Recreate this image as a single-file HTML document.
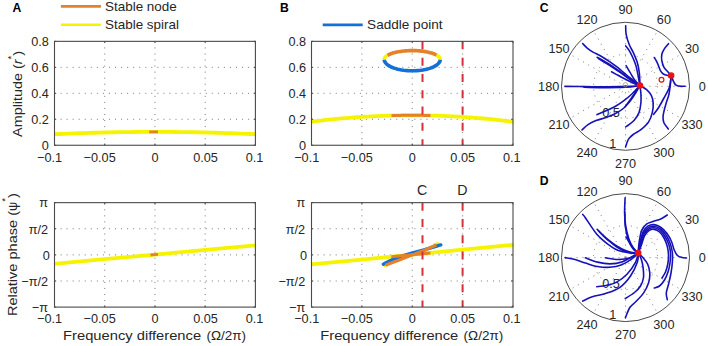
<!DOCTYPE html><html><head><meta charset="utf-8"><style>html,body{margin:0;padding:0;background:#fff;}svg{display:block;}</style></head><body><svg width="708" height="346" viewBox="0 0 708 346" font-family="Liberation Sans, sans-serif">
<rect width="708" height="346" fill="#fff"/>
<path d="M104.72,145.25V41.35M154.95,145.25V41.35M205.18,145.25V41.35M54.50,67.33H255.40M54.50,93.30H255.40M54.50,119.28H255.40" stroke="#7a7a7a" stroke-width="1" stroke-dasharray="1 5.05" fill="none"/>
<path d="M104.72,307.10V202.65M154.95,307.10V202.65M205.18,307.10V202.65M54.50,228.76H255.40M54.50,254.88H255.40M54.50,280.99H255.40" stroke="#7a7a7a" stroke-width="1" stroke-dasharray="1 5.05" fill="none"/>
<path d="M361.88,145.25V41.35M412.25,145.25V41.35M462.62,145.25V41.35M311.50,67.33H513.00M311.50,93.30H513.00M311.50,119.28H513.00" stroke="#7a7a7a" stroke-width="1" stroke-dasharray="1 5.05" fill="none"/>
<path d="M361.88,307.10V202.65M412.25,307.10V202.65M462.62,307.10V202.65M311.50,228.76H513.00M311.50,254.88H513.00M311.50,280.99H513.00" stroke="#7a7a7a" stroke-width="1" stroke-dasharray="1 5.05" fill="none"/>
<path d="M54.00,134.22L59.05,134.00L64.09,133.78L69.14,133.58L74.19,133.39L79.24,133.21L84.28,133.04L89.33,132.88L94.38,132.74L99.43,132.60L104.47,132.48L109.52,132.37L114.57,132.27L119.62,132.19L124.66,132.11L129.71,132.05L134.76,131.99L139.81,131.95L144.86,131.92L149.90,131.91L154.95,131.90L160.00,131.91L165.05,131.92L170.09,131.95L175.14,131.99L180.19,132.04L185.24,132.11L190.28,132.18L195.33,132.27L200.38,132.37L205.43,132.48L210.47,132.60L215.52,132.73L220.57,132.88L225.62,133.04L230.66,133.20L235.71,133.38L240.76,133.57L245.81,133.78L250.85,133.99L255.90,134.22" stroke="#f5f300" stroke-width="3.8" fill="none"/>
<path d="M149.20,131.91L149.42,131.91L149.64,131.91L149.86,131.91L150.08,131.91L150.30,131.91L150.52,131.90L150.74,131.90L150.96,131.90L151.18,131.90L151.40,131.90L151.62,131.90L151.84,131.90L152.06,131.90L152.28,131.90L152.50,131.90L152.72,131.90L152.94,131.90L153.16,131.90L153.38,131.90L153.60,131.90L153.82,131.90L154.04,131.90L154.26,131.90L154.48,131.90L154.70,131.90L154.92,131.90L155.14,131.90L155.36,131.90L155.58,131.90L155.80,131.90L156.02,131.90L156.24,131.90L156.46,131.90L156.68,131.90L156.90,131.90L157.12,131.90L157.34,131.90L157.56,131.90L157.78,131.90L158.00,131.90" stroke="#e4822a" stroke-width="2.8" fill="none"/>
<path d="M54.00,263.85L104.47,259.22L154.95,254.60L205.43,249.98L255.90,245.35" stroke="#f5f300" stroke-width="3.8" fill="none"/>
<path d="M150.50,255.01L154.25,254.66L158.00,254.32" stroke="#e4822a" stroke-width="2.8" fill="none"/>
<path d="M311.00,121.76L316.06,121.13L321.12,120.53L326.19,119.97L331.25,119.43L336.31,118.93L341.38,118.46L346.44,118.02L351.50,117.62L356.56,117.25L361.62,116.91L366.69,116.60L371.75,116.33L376.81,116.08L381.88,115.88L386.94,115.70L392.00,115.55L397.06,115.44L402.12,115.36L407.19,115.31L412.25,115.30L417.31,115.32L422.38,115.37L427.44,115.45L432.50,115.57L437.56,115.71L442.62,115.89L447.69,116.11L452.75,116.35L457.81,116.63L462.88,116.94L467.94,117.28L473.00,117.66L478.06,118.07L483.12,118.51L488.19,118.98L493.25,119.48L498.31,120.02L503.38,120.59L508.44,121.19L513.50,121.83" stroke="#f5f300" stroke-width="3.8" fill="none"/>
<path d="M391.50,115.57L392.48,115.54L393.45,115.52L394.43,115.50L395.40,115.47L396.38,115.45L397.35,115.44L398.32,115.42L399.30,115.40L400.27,115.39L401.25,115.37L402.23,115.36L403.20,115.35L404.18,115.34L405.15,115.33L406.12,115.32L407.10,115.32L408.07,115.31L409.05,115.31L410.02,115.30L411.00,115.30L411.98,115.30L412.95,115.30L413.93,115.30L414.90,115.31L415.88,115.31L416.85,115.31L417.82,115.32L418.80,115.33L419.77,115.34L420.75,115.35L421.73,115.36L422.70,115.37L423.68,115.39L424.65,115.40L425.62,115.42L426.60,115.44L427.57,115.45L428.55,115.47L429.52,115.49L430.50,115.52" stroke="#e4822a" stroke-width="3" fill="none"/>
<path d="M384.25,59.50L384.34,60.39L384.59,61.27L385.02,62.14L385.62,62.99L386.38,63.82L387.30,64.63L388.38,65.40L389.60,66.14L390.96,66.84L392.45,67.49L394.07,68.09L395.79,68.64L397.62,69.13L399.54,69.57L401.53,69.94L403.60,70.25L405.71,70.49L407.87,70.66L410.05,70.77L412.25,70.80L414.45,70.77L416.63,70.66L418.79,70.49L420.90,70.25L422.97,69.94L424.96,69.57L426.88,69.13L428.71,68.64L430.43,68.09L432.05,67.49L433.54,66.84L434.90,66.14L436.12,65.40L437.20,64.63L438.12,63.82L438.88,62.99L439.48,62.14L439.91,61.27L440.16,60.39L440.25,59.50" stroke="#1270d8" stroke-width="3.6" fill="none"/>
<path d="M387.53,55.32L386.54,55.97L385.72,56.65L385.08,57.35L384.62,58.06L384.34,58.78L384.25,59.50" stroke="#f5f300" stroke-width="3.6" fill="none"/>
<path d="M440.25,59.50L440.14,58.72L439.82,57.95L439.30,57.20L438.56,56.46L437.63,55.74L436.50,55.05" stroke="#f5f300" stroke-width="3.6" fill="none"/>
<path d="M436.50,55.05L435.44,54.51L434.27,54.00L432.99,53.52L431.61,53.07L430.12,52.65L428.55,52.26L426.89,51.91L425.16,51.60L423.37,51.33L421.52,51.10L419.62,50.91L417.69,50.77L415.73,50.67L413.75,50.61L411.76,50.60L409.78,50.63L407.81,50.71L405.86,50.84L403.94,51.00L402.06,51.21L400.24,51.46L398.48,51.75L396.78,52.08L395.17,52.45L393.64,52.85L392.20,53.29L390.86,53.76L389.64,54.25L388.52,54.77L387.53,55.32" stroke="#e4822a" stroke-width="3.6" fill="none"/>
<path d="M311.00,264.45L361.62,259.52L412.25,254.60L462.88,249.68L513.50,244.75" stroke="#f5f300" stroke-width="3.8" fill="none"/>
<path d="M383.5,265.6L387.5,264.3" stroke="#f5f300" stroke-width="3.6" fill="none"/>
<path d="M434,245L439,243.6" stroke="#f5f300" stroke-width="3.6" fill="none"/>
<path d="M383.40,264.20C385.33,263.27 390.57,260.37 395.00,258.60C399.43,256.83 405.00,255.10 410.00,253.60C415.00,252.10 419.87,251.05 425.00,249.60C430.13,248.15 438.17,245.68 440.80,244.90" stroke="#1270d8" stroke-width="3.4" fill="none" stroke-linecap="round"/>
<path d="M385.40,265.20C387.50,264.40 393.57,262.10 398.00,260.40C402.43,258.70 407.50,256.75 412.00,255.00C416.50,253.25 420.95,251.57 425.00,249.90C429.05,248.23 434.42,245.82 436.30,245.00" stroke="#e4822a" stroke-width="3.2" fill="none"/>
<path d="M391.3,256.8L430.4,253" stroke="#e4822a" stroke-width="3" fill="none"/>
<line x1="422.5" y1="41.35" x2="422.5" y2="145.25" stroke="#d8303a" stroke-width="2" stroke-dasharray="8 8.3"/>
<line x1="422.5" y1="202.65" x2="422.5" y2="307.1" stroke="#d8303a" stroke-width="2" stroke-dasharray="8 8.3"/>
<line x1="462.6" y1="41.35" x2="462.6" y2="145.25" stroke="#d8303a" stroke-width="2" stroke-dasharray="8 8.3"/>
<line x1="462.6" y1="202.65" x2="462.6" y2="307.1" stroke="#d8303a" stroke-width="2" stroke-dasharray="8 8.3"/>
<path d="M54.50,145.25v-1.7M54.50,41.35v1.7M104.72,145.25v-1.7M104.72,41.35v1.7M154.95,145.25v-1.7M154.95,41.35v1.7M205.18,145.25v-1.7M205.18,41.35v1.7M255.40,145.25v-1.7M255.40,41.35v1.7M54.50,41.35h1.7M255.40,41.35h-1.7M54.50,67.33h1.7M255.40,67.33h-1.7M54.50,93.30h1.7M255.40,93.30h-1.7M54.50,119.28h1.7M255.40,119.28h-1.7M54.50,145.25h1.7M255.40,145.25h-1.7" stroke="#4a4a4a" stroke-width="1" fill="none"/>
<rect x="54.50" y="41.35" width="200.90" height="103.90" stroke="#4a4a4a" stroke-width="1.1" fill="none"/>
<path d="M54.50,307.10v-1.7M54.50,202.65v1.7M104.72,307.10v-1.7M104.72,202.65v1.7M154.95,307.10v-1.7M154.95,202.65v1.7M205.18,307.10v-1.7M205.18,202.65v1.7M255.40,307.10v-1.7M255.40,202.65v1.7M54.50,202.65h1.7M255.40,202.65h-1.7M54.50,228.76h1.7M255.40,228.76h-1.7M54.50,254.88h1.7M255.40,254.88h-1.7M54.50,280.99h1.7M255.40,280.99h-1.7M54.50,307.10h1.7M255.40,307.10h-1.7" stroke="#4a4a4a" stroke-width="1" fill="none"/>
<rect x="54.50" y="202.65" width="200.90" height="104.45" stroke="#4a4a4a" stroke-width="1.1" fill="none"/>
<path d="M311.50,145.25v-1.7M311.50,41.35v1.7M361.88,145.25v-1.7M361.88,41.35v1.7M412.25,145.25v-1.7M412.25,41.35v1.7M462.62,145.25v-1.7M462.62,41.35v1.7M513.00,145.25v-1.7M513.00,41.35v1.7M311.50,41.35h1.7M513.00,41.35h-1.7M311.50,67.33h1.7M513.00,67.33h-1.7M311.50,93.30h1.7M513.00,93.30h-1.7M311.50,119.28h1.7M513.00,119.28h-1.7M311.50,145.25h1.7M513.00,145.25h-1.7" stroke="#4a4a4a" stroke-width="1" fill="none"/>
<rect x="311.50" y="41.35" width="201.50" height="103.90" stroke="#4a4a4a" stroke-width="1.1" fill="none"/>
<path d="M311.50,307.10v-1.7M311.50,202.65v1.7M361.88,307.10v-1.7M361.88,202.65v1.7M412.25,307.10v-1.7M412.25,202.65v1.7M462.62,307.10v-1.7M462.62,202.65v1.7M513.00,307.10v-1.7M513.00,202.65v1.7M311.50,202.65h1.7M513.00,202.65h-1.7M311.50,228.76h1.7M513.00,228.76h-1.7M311.50,254.88h1.7M513.00,254.88h-1.7M311.50,280.99h1.7M513.00,280.99h-1.7M311.50,307.10h1.7M513.00,307.10h-1.7" stroke="#4a4a4a" stroke-width="1" fill="none"/>
<rect x="311.50" y="202.65" width="201.50" height="104.45" stroke="#4a4a4a" stroke-width="1.1" fill="none"/>
<text x="48.90" y="46.25" font-size="12.7" text-anchor="end" font-weight="normal" fill="#262626">0.8</text>
<text x="48.90" y="72.23" font-size="12.7" text-anchor="end" font-weight="normal" fill="#262626">0.6</text>
<text x="48.90" y="98.20" font-size="12.7" text-anchor="end" font-weight="normal" fill="#262626">0.4</text>
<text x="48.90" y="124.18" font-size="12.7" text-anchor="end" font-weight="normal" fill="#262626">0.2</text>
<text x="48.90" y="150.15" font-size="12.7" text-anchor="end" font-weight="normal" fill="#262626">0</text>
<text x="48.00" y="207.25" font-size="12.7" text-anchor="end" font-weight="normal" fill="#262626">π</text>
<text x="48.00" y="233.66" font-size="12.7" text-anchor="end" font-weight="normal" fill="#262626">π/2</text>
<text x="49.90" y="259.77" font-size="12.7" text-anchor="end" font-weight="normal" fill="#262626">0</text>
<text x="48.00" y="285.89" font-size="12.7" text-anchor="end" font-weight="normal" fill="#262626">−π/2</text>
<text x="48.00" y="311.70" font-size="12.7" text-anchor="end" font-weight="normal" fill="#262626">−π</text>
<text x="37.00" y="161.50" font-size="12.7" text-anchor="start" font-weight="normal" fill="#262626">−0.1</text>
<text x="83.60" y="161.50" font-size="12.7" text-anchor="start" font-weight="normal" fill="#262626">−0.05</text>
<text x="155.10" y="161.50" font-size="12.7" text-anchor="middle" font-weight="normal" fill="#262626">0</text>
<text x="205.50" y="161.50" font-size="12.7" text-anchor="middle" font-weight="normal" fill="#262626">0.05</text>
<text x="254.60" y="161.50" font-size="12.7" text-anchor="middle" font-weight="normal" fill="#262626">0.1</text>
<text x="37.00" y="323.30" font-size="12.7" text-anchor="start" font-weight="normal" fill="#262626">−0.1</text>
<text x="83.60" y="323.30" font-size="12.7" text-anchor="start" font-weight="normal" fill="#262626">−0.05</text>
<text x="155.10" y="323.30" font-size="12.7" text-anchor="middle" font-weight="normal" fill="#262626">0</text>
<text x="205.50" y="323.30" font-size="12.7" text-anchor="middle" font-weight="normal" fill="#262626">0.05</text>
<text x="254.60" y="323.30" font-size="12.7" text-anchor="middle" font-weight="normal" fill="#262626">0.1</text>
<text x="63.10" y="339.90" font-size="13.5" text-anchor="start" font-weight="normal" fill="#262626" textLength="138.00" lengthAdjust="spacingAndGlyphs">Frequency difference</text>
<text x="206.40" y="339.90" font-size="13.5" text-anchor="start" font-weight="normal" fill="#262626" textLength="39.60" lengthAdjust="spacingAndGlyphs">(Ω/2π)</text>
<text x="306.10" y="46.25" font-size="12.7" text-anchor="end" font-weight="normal" fill="#262626">0.8</text>
<text x="306.10" y="72.23" font-size="12.7" text-anchor="end" font-weight="normal" fill="#262626">0.6</text>
<text x="306.10" y="98.20" font-size="12.7" text-anchor="end" font-weight="normal" fill="#262626">0.4</text>
<text x="306.10" y="124.18" font-size="12.7" text-anchor="end" font-weight="normal" fill="#262626">0.2</text>
<text x="306.10" y="150.15" font-size="12.7" text-anchor="end" font-weight="normal" fill="#262626">0</text>
<text x="305.20" y="207.25" font-size="12.7" text-anchor="end" font-weight="normal" fill="#262626">π</text>
<text x="305.20" y="233.66" font-size="12.7" text-anchor="end" font-weight="normal" fill="#262626">π/2</text>
<text x="307.10" y="259.77" font-size="12.7" text-anchor="end" font-weight="normal" fill="#262626">0</text>
<text x="305.20" y="285.89" font-size="12.7" text-anchor="end" font-weight="normal" fill="#262626">−π/2</text>
<text x="305.20" y="311.70" font-size="12.7" text-anchor="end" font-weight="normal" fill="#262626">−π</text>
<text x="294.20" y="161.50" font-size="12.7" text-anchor="start" font-weight="normal" fill="#262626">−0.1</text>
<text x="340.80" y="161.50" font-size="12.7" text-anchor="start" font-weight="normal" fill="#262626">−0.05</text>
<text x="412.30" y="161.50" font-size="12.7" text-anchor="middle" font-weight="normal" fill="#262626">0</text>
<text x="462.70" y="161.50" font-size="12.7" text-anchor="middle" font-weight="normal" fill="#262626">0.05</text>
<text x="511.80" y="161.50" font-size="12.7" text-anchor="middle" font-weight="normal" fill="#262626">0.1</text>
<text x="294.20" y="323.30" font-size="12.7" text-anchor="start" font-weight="normal" fill="#262626">−0.1</text>
<text x="340.80" y="323.30" font-size="12.7" text-anchor="start" font-weight="normal" fill="#262626">−0.05</text>
<text x="412.30" y="323.30" font-size="12.7" text-anchor="middle" font-weight="normal" fill="#262626">0</text>
<text x="462.70" y="323.30" font-size="12.7" text-anchor="middle" font-weight="normal" fill="#262626">0.05</text>
<text x="511.80" y="323.30" font-size="12.7" text-anchor="middle" font-weight="normal" fill="#262626">0.1</text>
<text x="320.30" y="339.90" font-size="13.5" text-anchor="start" font-weight="normal" fill="#262626" textLength="138.00" lengthAdjust="spacingAndGlyphs">Frequency difference</text>
<text x="463.60" y="339.90" font-size="13.5" text-anchor="start" font-weight="normal" fill="#262626" textLength="39.60" lengthAdjust="spacingAndGlyphs">(Ω/2π)</text>
<text transform="translate(22.2,136.9) rotate(-90)" font-size="13.5" fill="#262626" textLength="86" lengthAdjust="spacingAndGlyphs">Amplitude (<tspan font-style="italic">r</tspan><tspan dy="-8.5" font-size="9">*</tspan><tspan dy="8.5">)</tspan></text>
<text transform="translate(16.9,316.1) rotate(-90)" font-size="13.5" fill="#262626" textLength="123" lengthAdjust="spacingAndGlyphs">Relative phase (<tspan font-size="12">ψ</tspan><tspan dy="-9" font-size="9">*</tspan><tspan dy="9">)</tspan></text>
<text x="12.60" y="11.70" font-size="12.2" text-anchor="start" font-weight="bold" fill="#000">A</text>
<text x="280.00" y="11.70" font-size="12.2" text-anchor="start" font-weight="bold" fill="#000">B</text>
<text x="539.80" y="11.70" font-size="12.2" text-anchor="start" font-weight="bold" fill="#000">C</text>
<text x="539.80" y="185.10" font-size="12.2" text-anchor="start" font-weight="bold" fill="#000">D</text>
<line x1="60.9" y1="6.4" x2="100.9" y2="6.4" stroke="#e4822a" stroke-width="2.6"/>
<line x1="60.9" y1="24.8" x2="100.9" y2="24.8" stroke="#f5f300" stroke-width="2.6"/>
<line x1="322.7" y1="24.85" x2="362.7" y2="24.85" stroke="#1270d8" stroke-width="2.6"/>
<text x="105.00" y="10.60" font-size="13" text-anchor="start" font-weight="normal" fill="#262626" textLength="71.80" lengthAdjust="spacingAndGlyphs">Stable node</text>
<text x="105.00" y="29.40" font-size="13" text-anchor="start" font-weight="normal" fill="#262626" textLength="74.00" lengthAdjust="spacingAndGlyphs">Stable spiral</text>
<text x="367.10" y="29.40" font-size="13" text-anchor="start" font-weight="normal" fill="#262626" textLength="75.40" lengthAdjust="spacingAndGlyphs">Saddle point</text>
<text x="422.00" y="194.60" font-size="14.2" text-anchor="middle" font-weight="normal" fill="#262626">C</text>
<text x="462.40" y="194.60" font-size="14.2" text-anchor="middle" font-weight="normal" fill="#262626">D</text>
<path d="M625.50,86.30L689.50,86.30M625.50,86.30L680.93,54.30M625.50,86.30L657.50,30.87M625.50,86.30L625.50,22.30M625.50,86.30L593.50,30.87M625.50,86.30L570.07,54.30M625.50,86.30L561.50,86.30M625.50,86.30L570.07,118.30M625.50,86.30L593.50,141.73M625.50,86.30L625.50,150.30M625.50,86.30L657.50,141.73M625.50,86.30L680.93,118.30" stroke="#7a7a7a" stroke-width="1" stroke-dasharray="1 5" fill="none"/>
<circle cx="625.5" cy="86.3" r="32.0" stroke="#7a7a7a" stroke-width="1" stroke-dasharray="1 5" fill="none"/>
<circle cx="625.5" cy="86.3" r="64.0" stroke="#4a4a4a" stroke-width="1" fill="none"/>
<text x="702.30" y="90.90" font-size="12.7" text-anchor="middle" font-weight="normal" fill="#262626">0</text>
<text x="692.01" y="52.50" font-size="12.7" text-anchor="middle" font-weight="normal" fill="#262626">30</text>
<text x="663.90" y="24.39" font-size="12.7" text-anchor="middle" font-weight="normal" fill="#262626">60</text>
<text x="625.50" y="14.10" font-size="12.7" text-anchor="middle" font-weight="normal" fill="#262626">90</text>
<text x="587.10" y="24.39" font-size="12.7" text-anchor="middle" font-weight="normal" fill="#262626">120</text>
<text x="558.99" y="52.50" font-size="12.7" text-anchor="middle" font-weight="normal" fill="#262626">150</text>
<text x="548.70" y="90.90" font-size="12.7" text-anchor="middle" font-weight="normal" fill="#262626">180</text>
<text x="558.99" y="129.30" font-size="12.7" text-anchor="middle" font-weight="normal" fill="#262626">210</text>
<text x="587.10" y="157.41" font-size="12.7" text-anchor="middle" font-weight="normal" fill="#262626">240</text>
<text x="625.50" y="167.70" font-size="12.7" text-anchor="middle" font-weight="normal" fill="#262626">270</text>
<text x="663.90" y="157.41" font-size="12.7" text-anchor="middle" font-weight="normal" fill="#262626">300</text>
<text x="692.01" y="129.30" font-size="12.7" text-anchor="middle" font-weight="normal" fill="#262626">330</text>
<text x="602.20" y="116.90" font-size="12.7" text-anchor="start" font-weight="normal" fill="#262626">0.5</text>
<text x="609.20" y="148.10" font-size="12.7" text-anchor="start" font-weight="normal" fill="#262626">1</text>
<path d="M625.50,257.60L689.50,257.60M625.50,257.60L680.93,225.60M625.50,257.60L657.50,202.17M625.50,257.60L625.50,193.60M625.50,257.60L593.50,202.17M625.50,257.60L570.07,225.60M625.50,257.60L561.50,257.60M625.50,257.60L570.07,289.60M625.50,257.60L593.50,313.03M625.50,257.60L625.50,321.60M625.50,257.60L657.50,313.03M625.50,257.60L680.93,289.60" stroke="#7a7a7a" stroke-width="1" stroke-dasharray="1 5" fill="none"/>
<circle cx="625.5" cy="257.6" r="32.0" stroke="#7a7a7a" stroke-width="1" stroke-dasharray="1 5" fill="none"/>
<circle cx="625.5" cy="257.6" r="64.0" stroke="#4a4a4a" stroke-width="1" fill="none"/>
<text x="702.30" y="262.20" font-size="12.7" text-anchor="middle" font-weight="normal" fill="#262626">0</text>
<text x="692.01" y="223.80" font-size="12.7" text-anchor="middle" font-weight="normal" fill="#262626">30</text>
<text x="663.90" y="195.69" font-size="12.7" text-anchor="middle" font-weight="normal" fill="#262626">60</text>
<text x="625.50" y="185.40" font-size="12.7" text-anchor="middle" font-weight="normal" fill="#262626">90</text>
<text x="587.10" y="195.69" font-size="12.7" text-anchor="middle" font-weight="normal" fill="#262626">120</text>
<text x="558.99" y="223.80" font-size="12.7" text-anchor="middle" font-weight="normal" fill="#262626">150</text>
<text x="548.70" y="262.20" font-size="12.7" text-anchor="middle" font-weight="normal" fill="#262626">180</text>
<text x="558.99" y="300.60" font-size="12.7" text-anchor="middle" font-weight="normal" fill="#262626">210</text>
<text x="587.10" y="328.71" font-size="12.7" text-anchor="middle" font-weight="normal" fill="#262626">240</text>
<text x="625.50" y="339.00" font-size="12.7" text-anchor="middle" font-weight="normal" fill="#262626">270</text>
<text x="663.90" y="328.71" font-size="12.7" text-anchor="middle" font-weight="normal" fill="#262626">300</text>
<text x="692.01" y="300.60" font-size="12.7" text-anchor="middle" font-weight="normal" fill="#262626">330</text>
<text x="602.20" y="288.20" font-size="12.7" text-anchor="start" font-weight="normal" fill="#262626">0.5</text>
<text x="609.20" y="319.40" font-size="12.7" text-anchor="start" font-weight="normal" fill="#262626">1</text>
<path d="M582.60,43.50C583.37,44.27 585.47,46.67 587.20,48.10C588.93,49.53 590.68,50.75 593.00,52.10C595.32,53.45 598.40,54.65 601.10,56.20C603.80,57.75 606.38,59.48 609.20,61.40C612.02,63.32 615.20,65.52 618.00,67.70C620.80,69.88 623.42,72.37 626.00,74.50C628.58,76.63 631.18,78.67 633.50,80.50C635.82,82.33 638.83,84.67 639.90,85.50" stroke="#1612b8" stroke-width="1.6" fill="none" stroke-linecap="round"/>
<path d="M597.10,57.30C598.15,57.88 601.18,59.53 603.40,60.80C605.62,62.07 607.97,63.35 610.40,64.90C612.83,66.45 615.40,68.25 618.00,70.10C620.60,71.95 623.42,74.10 626.00,76.00C628.58,77.90 631.18,79.92 633.50,81.50C635.82,83.08 638.83,84.83 639.90,85.50" stroke="#1612b8" stroke-width="1.6" fill="none" stroke-linecap="round"/>
<path d="M598.50,58.60C599.50,59.22 602.42,61.02 604.50,62.30C606.58,63.58 608.67,64.80 611.00,66.30C613.33,67.80 615.92,69.52 618.50,71.30C621.08,73.08 623.92,75.18 626.50,77.00C629.08,78.82 631.77,80.78 634.00,82.20C636.23,83.62 638.92,84.95 639.90,85.50" stroke="#1612b8" stroke-width="1.6" fill="none" stroke-linecap="round"/>
<path d="M611.50,71.80C612.58,72.38 615.58,74.02 618.00,75.30C620.42,76.58 623.50,78.22 626.00,79.50C628.50,80.78 630.68,82.00 633.00,83.00C635.32,84.00 638.75,85.08 639.90,85.50" stroke="#1612b8" stroke-width="1.6" fill="none" stroke-linecap="round"/>
<path d="M565.00,86.40C568.17,86.43 576.82,86.52 584.00,86.60C591.18,86.68 600.43,86.93 608.10,86.90C615.77,86.87 624.70,86.63 630.00,86.40C635.30,86.17 638.25,85.65 639.90,85.50" stroke="#1612b8" stroke-width="1.6" fill="none" stroke-linecap="round"/>
<path d="M584.00,87.30C588.02,87.35 600.43,87.65 608.10,87.60C615.77,87.55 624.70,87.35 630.00,87.00C635.30,86.65 638.25,85.75 639.90,85.50" stroke="#1612b8" stroke-width="1.6" fill="none" stroke-linecap="round"/>
<path d="M625.70,25.70C625.77,27.12 625.53,31.10 626.10,34.20C626.67,37.30 627.92,41.27 629.10,44.30C630.28,47.33 631.83,49.35 633.20,52.40C634.57,55.45 636.28,59.22 637.30,62.60C638.32,65.98 638.87,69.33 639.30,72.70C639.73,76.07 639.80,81.12 639.90,82.80" stroke="#1612b8" stroke-width="1.6" fill="none" stroke-linecap="round"/>
<path d="M625.70,45.90C626.27,46.65 627.85,48.30 629.10,50.40C630.35,52.50 632.02,55.80 633.20,58.50C634.38,61.20 635.35,63.55 636.20,66.60C637.05,69.65 637.68,73.65 638.30,76.80C638.92,79.95 639.63,84.05 639.90,85.50" stroke="#1612b8" stroke-width="1.6" fill="none" stroke-linecap="round"/>
<path d="M626.10,65.60C626.78,66.78 628.68,70.17 630.20,72.70C631.72,75.23 633.58,78.67 635.20,80.80C636.82,82.93 639.12,84.72 639.90,85.50" stroke="#1612b8" stroke-width="1.6" fill="none" stroke-linecap="round"/>
<path d="M582.00,129.90C583.00,129.02 585.67,126.15 588.00,124.60C590.33,123.05 592.90,121.82 596.00,120.60C599.10,119.38 603.28,118.52 606.60,117.30C609.92,116.08 613.02,114.85 615.90,113.30C618.78,111.75 621.45,110.12 623.90,108.00C626.35,105.88 628.60,103.15 630.60,100.60C632.60,98.05 634.35,95.22 635.90,92.70C637.45,90.18 639.23,86.70 639.90,85.50" stroke="#1612b8" stroke-width="1.6" fill="none" stroke-linecap="round"/>
<path d="M597.00,114.60C598.60,113.93 603.45,112.03 606.60,110.60C609.75,109.17 613.02,107.67 615.90,106.00C618.78,104.33 621.23,102.60 623.90,100.60C626.57,98.60 629.23,96.52 631.90,94.00C634.57,91.48 638.57,86.92 639.90,85.50" stroke="#1612b8" stroke-width="1.6" fill="none" stroke-linecap="round"/>
<path d="M625.20,106.60C626.10,105.38 628.82,101.85 630.60,99.30C632.38,96.75 634.35,93.60 635.90,91.30C637.45,89.00 639.23,86.47 639.90,85.50" stroke="#1612b8" stroke-width="1.6" fill="none" stroke-linecap="round"/>
<path d="M639.90,85.50C640.07,86.83 640.73,90.58 640.90,93.50C641.07,96.42 641.22,99.82 640.90,103.00C640.58,106.18 640.12,109.73 639.00,112.60C637.88,115.47 635.95,118.13 634.20,120.20C632.45,122.27 629.93,123.88 628.50,125.00C627.07,126.12 626.08,126.58 625.60,126.90" stroke="#1612b8" stroke-width="1.6" fill="none" stroke-linecap="round"/>
<path d="M639.90,85.50C641.02,86.20 644.70,88.05 646.60,89.70C648.50,91.35 650.20,93.18 651.30,95.40C652.40,97.62 653.03,100.13 653.20,103.00C653.37,105.87 653.08,109.42 652.30,112.60C651.52,115.78 650.40,119.25 648.50,122.10C646.60,124.95 643.45,127.63 640.90,129.70C638.35,131.77 635.27,132.92 633.20,134.50C631.13,136.08 629.77,137.13 628.50,139.20C627.23,141.27 626.08,145.62 625.60,146.90" stroke="#1612b8" stroke-width="1.6" fill="none" stroke-linecap="round"/>
<path d="M668.50,43.70C667.75,44.63 665.12,47.50 664.00,49.30C662.88,51.10 662.17,52.63 661.80,54.50C661.43,56.37 661.43,58.37 661.80,60.50C662.17,62.63 663.00,65.42 664.00,67.30C665.00,69.18 666.62,70.43 667.80,71.80C668.98,73.17 670.55,74.88 671.10,75.50" stroke="#1612b8" stroke-width="1.6" fill="none" stroke-linecap="round"/>
<path d="M654.30,57.50C654.80,58.38 656.30,60.67 657.30,62.80C658.30,64.93 659.30,68.43 660.30,70.30C661.30,72.17 662.02,73.13 663.30,74.00C664.58,74.87 666.70,75.25 668.00,75.50C669.30,75.75 670.58,75.50 671.10,75.50" stroke="#1612b8" stroke-width="1.6" fill="none" stroke-linecap="round"/>
<path d="M671.10,75.50C671.92,77.12 673.68,83.40 676.00,85.20C678.32,87.00 683.50,86.12 685.00,86.30" stroke="#1612b8" stroke-width="1.6" fill="none" stroke-linecap="round"/>
<path d="M671.10,75.50C670.83,77.42 670.73,83.17 669.50,87.00C668.27,90.83 665.62,94.92 663.70,98.50C661.78,102.08 659.68,105.87 658.00,108.50C656.32,111.13 654.33,113.33 653.60,114.30" stroke="#1612b8" stroke-width="1.6" fill="none" stroke-linecap="round"/>
<path d="M671.10,75.50C670.95,77.25 670.58,82.75 670.20,86.00C669.82,89.25 669.47,92.17 668.80,95.00C668.13,97.83 667.03,100.17 666.20,103.00C665.37,105.83 664.33,109.58 663.80,112.00C663.27,114.42 662.97,115.67 663.00,117.50C663.03,119.33 663.12,121.08 664.00,123.00C664.88,124.92 667.58,128.00 668.30,129.00" stroke="#1612b8" stroke-width="1.6" fill="none" stroke-linecap="round"/>
<path d="M582.70,214.40C583.08,214.87 583.65,215.28 585.00,217.20C586.35,219.12 588.87,223.10 590.80,225.90C592.73,228.70 594.68,231.70 596.60,234.00C598.52,236.30 600.38,237.97 602.30,239.70C604.22,241.43 605.97,242.85 608.10,244.40C610.23,245.95 612.78,247.80 615.10,249.00C617.42,250.20 619.52,250.93 622.00,251.60C624.48,252.27 627.30,252.75 630.00,253.00C632.70,253.25 636.83,253.08 638.20,253.10" stroke="#1612b8" stroke-width="1.6" fill="none" stroke-linecap="round"/>
<path d="M597.10,229.30C597.97,230.17 600.47,232.77 602.30,234.50C604.13,236.23 605.97,237.95 608.10,239.70C610.23,241.45 612.78,243.45 615.10,245.00C617.42,246.55 619.52,247.83 622.00,249.00C624.48,250.17 627.30,251.32 630.00,252.00C632.70,252.68 636.83,252.92 638.20,253.10" stroke="#1612b8" stroke-width="1.6" fill="none" stroke-linecap="round"/>
<path d="M598.30,230.80C599.13,231.63 601.52,234.10 603.30,235.80C605.08,237.50 606.92,239.25 609.00,241.00C611.08,242.75 613.55,244.77 615.80,246.30C618.05,247.83 620.13,249.12 622.50,250.20C624.87,251.28 627.38,252.32 630.00,252.80C632.62,253.28 636.83,253.05 638.20,253.10" stroke="#1612b8" stroke-width="1.6" fill="none" stroke-linecap="round"/>
<path d="M625.10,197.70C625.02,200.28 624.50,208.48 624.60,213.20C624.70,217.92 625.00,221.75 625.70,226.00C626.40,230.25 627.53,235.05 628.80,238.70C630.07,242.35 631.73,245.50 633.30,247.90C634.87,250.30 637.38,252.23 638.20,253.10" stroke="#1612b8" stroke-width="1.6" fill="none" stroke-linecap="round"/>
<path d="M624.80,212.00C624.88,214.42 624.72,221.92 625.30,226.50C625.88,231.08 627.05,235.83 628.30,239.50C629.55,243.17 631.15,246.23 632.80,248.50C634.45,250.77 637.30,252.33 638.20,253.10" stroke="#1612b8" stroke-width="1.6" fill="none" stroke-linecap="round"/>
<path d="M626.00,236.90C626.92,238.42 629.47,243.30 631.50,246.00C633.53,248.70 637.08,251.92 638.20,253.10" stroke="#1612b8" stroke-width="1.6" fill="none" stroke-linecap="round"/>
<path d="M565.20,257.60C566.83,257.92 571.63,258.60 575.00,259.50C578.37,260.40 581.65,261.83 585.40,263.00C589.15,264.17 593.45,265.78 597.50,266.50C601.55,267.22 605.65,267.60 609.70,267.30C613.75,267.00 618.05,266.13 621.80,264.70C625.55,263.27 629.47,260.63 632.20,258.70C634.93,256.77 637.20,254.03 638.20,253.10" stroke="#1612b8" stroke-width="1.6" fill="none" stroke-linecap="round"/>
<path d="M585.40,257.80C587.42,258.52 593.45,261.08 597.50,262.10C601.55,263.12 605.65,263.90 609.70,263.90C613.75,263.90 617.05,263.90 621.80,262.10C626.55,260.30 635.47,254.60 638.20,253.10" stroke="#1612b8" stroke-width="1.6" fill="none" stroke-linecap="round"/>
<path d="M605.30,257.80C607.47,258.08 614.10,259.50 618.30,259.50C622.50,259.50 627.18,258.87 630.50,257.80C633.82,256.73 636.92,253.88 638.20,253.10" stroke="#1612b8" stroke-width="1.6" fill="none" stroke-linecap="round"/>
<path d="M638.20,253.10C637.77,254.60 637.47,258.57 635.60,262.10C633.73,265.63 630.17,270.97 627.00,274.30C623.83,277.63 620.07,280.23 616.60,282.10C613.13,283.97 609.52,284.73 606.20,285.50C602.88,286.27 598.28,286.50 596.70,286.70" stroke="#1612b8" stroke-width="1.6" fill="none" stroke-linecap="round"/>
<path d="M638.20,253.10C638.07,254.60 638.68,258.28 637.40,262.10C636.12,265.92 633.40,271.80 630.50,276.00C627.60,280.20 624.05,284.42 620.00,287.30C615.95,290.18 610.82,291.72 606.20,293.30C601.58,294.88 596.20,295.50 592.30,296.80C588.40,298.10 584.38,300.38 582.80,301.10" stroke="#1612b8" stroke-width="1.6" fill="none" stroke-linecap="round"/>
<path d="M638.20,253.10C638.70,254.08 640.40,256.68 641.20,259.00C642.00,261.32 642.62,263.92 643.00,267.00C643.38,270.08 643.92,274.33 643.50,277.50C643.08,280.67 642.00,283.50 640.50,286.00C639.00,288.50 637.03,290.42 634.50,292.50C631.97,294.58 626.83,297.50 625.30,298.50" stroke="#1612b8" stroke-width="1.6" fill="none" stroke-linecap="round"/>
<path d="M638.20,253.10C638.93,253.78 641.03,255.38 642.60,257.20C644.17,259.02 646.40,261.37 647.60,264.00C648.80,266.63 649.63,269.88 649.80,273.00C649.97,276.12 649.65,279.35 648.60,282.70C647.55,286.05 645.60,289.97 643.50,293.10C641.40,296.23 638.25,299.13 636.00,301.50C633.75,303.87 631.77,304.60 630.00,307.30C628.23,310.00 626.17,315.97 625.40,317.70" stroke="#1612b8" stroke-width="1.6" fill="none" stroke-linecap="round"/>
<path d="M667.30,215.00C666.22,215.65 663.18,217.82 660.80,218.90C658.42,219.98 655.38,220.63 653.00,221.50C650.62,222.37 648.40,222.58 646.50,224.10C644.60,225.62 642.77,227.95 641.60,230.60C640.43,233.25 640.02,237.10 639.50,240.00C638.98,242.90 638.72,245.82 638.50,248.00C638.28,250.18 638.25,252.25 638.20,253.10" stroke="#1612b8" stroke-width="1.6" fill="none" stroke-linecap="round"/>
<path d="M638.20,253.10C638.53,251.25 639.40,245.52 640.20,242.00C641.00,238.48 641.73,234.63 643.00,232.00C644.27,229.37 645.92,227.43 647.80,226.20C649.68,224.97 652.10,224.38 654.30,224.60C656.50,224.82 658.88,226.02 661.00,227.50C663.12,228.98 665.25,231.17 667.00,233.50C668.75,235.83 670.30,238.75 671.50,241.50C672.70,244.25 673.20,247.67 674.20,250.00C675.20,252.33 676.20,254.25 677.50,255.50C678.80,256.75 680.50,257.08 682.00,257.50C683.50,257.92 685.75,257.92 686.50,258.00" stroke="#1612b8" stroke-width="1.6" fill="none" stroke-linecap="round"/>
<path d="M638.20,253.10C638.60,251.42 639.72,246.32 640.60,243.00C641.48,239.68 642.22,235.77 643.50,233.20C644.78,230.63 646.50,228.77 648.30,227.60C650.10,226.43 652.27,225.97 654.30,226.20C656.33,226.43 658.55,227.53 660.50,229.00C662.45,230.47 664.42,232.67 666.00,235.00C667.58,237.33 668.95,240.17 670.00,243.00C671.05,245.83 671.90,248.83 672.30,252.00C672.70,255.17 672.62,258.50 672.40,262.00C672.18,265.50 671.63,269.33 671.00,273.00C670.37,276.67 669.38,280.67 668.60,284.00C667.82,287.33 666.52,290.40 666.30,293.00C666.08,295.60 667.13,298.50 667.30,299.60" stroke="#1612b8" stroke-width="1.6" fill="none" stroke-linecap="round"/>
<path d="M638.20,253.10C638.67,251.58 640.03,247.10 641.00,244.00C641.97,240.90 642.70,237.00 644.00,234.50C645.30,232.00 647.08,230.12 648.80,229.00C650.52,227.88 652.43,227.55 654.30,227.80C656.17,228.05 658.22,229.05 660.00,230.50C661.78,231.95 663.53,234.17 665.00,236.50C666.47,238.83 667.88,241.75 668.80,244.50C669.72,247.25 670.30,249.92 670.50,253.00C670.70,256.08 670.42,259.83 670.00,263.00C669.58,266.17 668.92,269.17 668.00,272.00C667.08,274.83 665.92,277.67 664.50,280.00C663.08,282.33 661.20,284.67 659.50,286.00C657.80,287.33 655.17,287.67 654.30,288.00" stroke="#1612b8" stroke-width="1.6" fill="none" stroke-linecap="round"/>
<path d="M638.20,253.10C638.73,251.75 640.35,247.88 641.40,245.00C642.45,242.12 643.18,238.23 644.50,235.80C645.82,233.37 647.67,231.47 649.30,230.40C650.93,229.33 652.60,229.13 654.30,229.40C656.00,229.67 657.88,230.57 659.50,232.00C661.12,233.43 662.72,235.67 664.00,238.00C665.28,240.33 666.45,243.17 667.20,246.00C667.95,248.83 668.40,252.00 668.50,255.00C668.60,258.00 668.30,261.17 667.80,264.00C667.30,266.83 666.47,269.67 665.50,272.00C664.53,274.33 662.58,277.00 662.00,278.00" stroke="#1612b8" stroke-width="1.6" fill="none" stroke-linecap="round"/>
<circle cx="625.4" cy="84.8" r="2.2" stroke="#999" stroke-width="0.8" fill="none"/>
<circle cx="639.9" cy="85.5" r="3.3" fill="#ee1111"/>
<circle cx="671.1" cy="75.5" r="3.3" fill="#ee1111"/>
<circle cx="638.2" cy="253.1" r="3.3" fill="#ee1111"/>
<circle cx="661.5" cy="79.8" r="2.4" stroke="#ee1111" stroke-width="1.2" fill="none"/>
</svg></body></html>
